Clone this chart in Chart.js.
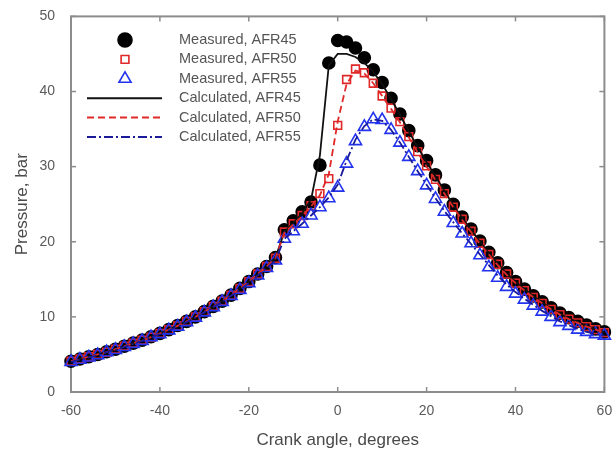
<!DOCTYPE html>
<html>
<head>
<meta charset="utf-8">
<script src="https://cdn.jsdelivr.net/npm/chart.js@4/dist/chart.umd.min.js"></script>
<style>
  html, body { margin: 0; padding: 0; background: #fff; }
  #wrap { width: 613px; height: 455px; }
</style>
</head>
<body>
<div id="wrap"><canvas id="chart" width="613" height="455"></canvas></div>
<script>
// crank angle, degrees
const angles = [-60, -58, -56, -54, -52, -50, -48, -46, -44, -42, -40, -38, -36, -34, -32, -30, -28, -26, -24, -22, -20, -18, -16, -14,
  -12, -10, -8, -6, -4, -2, 0, 2, 4, 6, 8, 10, 12, 14, 16, 18, 20, 22, 24, 26, 28, 30, 32, 34, 36, 38, 40, 42, 44, 46, 48, 50, 52, 54, 56, 58, 60];

// pressure, bar
const measured45 = [4.1, 4.4, 4.7, 5.0, 5.35, 5.7, 6.1, 6.5, 6.9, 7.35, 7.8, 8.3, 8.85, 9.4, 10.0, 10.7, 11.4, 12.1, 12.9, 13.8, 14.7, 15.7, 16.7, 17.9,
  21.6, 22.8, 24.0, 25.3, 30.2, 43.8, 46.8, 46.6, 45.8, 44.5, 42.9, 41.2, 39.1, 37.0, 34.8, 32.8, 30.8, 28.9, 26.9, 25.0, 23.3, 21.7, 20.1, 18.6, 17.2, 15.9, 14.7, 13.7, 12.8, 12.0, 11.2, 10.5, 9.9, 9.4, 8.9, 8.4, 8.0];
const measured50 = [4.1, 4.4, 4.7, 5.0, 5.3, 5.7, 6.1, 6.5, 6.9, 7.3, 7.8, 8.3, 8.8, 9.4, 10.0, 10.7, 11.4, 12.1, 12.9, 13.8, 14.7, 15.7, 16.7, 17.8,
  21.3, 22.4, 23.5, 24.8, 26.4, 28.4, 35.5, 41.6, 43.0, 42.5, 41.1, 39.4, 37.8, 36.0, 34.0, 32.0, 30.1, 28.3, 26.4, 24.6, 23.0, 21.4, 19.8, 18.3, 17.0, 15.7, 14.5, 13.5, 12.6, 11.8, 11.0, 10.3, 9.7, 9.2, 8.7, 8.3, 7.9];
const measured55 = [4.0, 4.3, 4.6, 4.9, 5.3, 5.6, 6.0, 6.4, 6.8, 7.3, 7.7, 8.2, 8.7, 9.3, 9.9, 10.6, 11.3, 12.0, 12.8, 13.6, 14.5, 15.5, 16.5, 17.5,
  20.4, 21.4, 22.4, 23.5, 24.6, 25.8, 27.2, 30.4, 33.4, 35.3, 36.3, 36.2, 34.9, 33.2, 31.3, 29.4, 27.5, 25.7, 24.0, 22.5, 21.1, 19.8, 18.2, 16.6, 15.2, 14.0, 13.1, 12.3, 11.5, 10.7, 10.0, 9.3, 8.8, 8.3, 8.0, 7.7, 7.5];

const calc45 = [4.1, 4.4, 4.7, 5.0, 5.35, 5.7, 6.1, 6.5, 6.9, 7.35, 7.8, 8.3, 8.85, 9.4, 10.0, 10.7, 11.4, 12.1, 12.9, 13.8, 14.7, 15.7, 16.7, 17.9,
  21.3, 22.5, 23.8, 25.6, 31.5, 43.5, 45.0, 45.0, 44.6, 43.8, 42.6, 41.0, 39.0, 36.9, 34.7, 32.6, 30.6, 28.7, 26.8, 24.9, 23.2, 21.6, 20.0, 18.5, 17.1, 15.8, 14.7, 13.7, 12.8, 11.9, 11.1, 10.4, 9.8, 9.3, 8.8, 8.3, 7.9];
const calc50 = [4.1, 4.4, 4.7, 5.0, 5.3, 5.7, 6.1, 6.5, 6.9, 7.3, 7.8, 8.3, 8.8, 9.4, 10.0, 10.7, 11.4, 12.1, 12.9, 13.8, 14.7, 15.7, 16.7, 17.8,
  21.2, 22.3, 23.4, 24.7, 26.2, 29.0, 36.0, 41.0, 42.8, 42.4, 41.1, 39.4, 37.7, 35.9, 33.9, 31.9, 30.0, 28.2, 26.4, 24.6, 22.9, 21.3, 19.7, 18.3, 16.9, 15.6, 14.5, 13.5, 12.6, 11.8, 11.0, 10.3, 9.7, 9.2, 8.7, 8.3, 7.9];
const calc55 = [4.0, 4.3, 4.6, 4.9, 5.3, 5.6, 6.0, 6.4, 6.8, 7.3, 7.7, 8.2, 8.7, 9.3, 9.9, 10.6, 11.3, 12.0, 12.8, 13.6, 14.5, 15.5, 16.5, 17.5,
  20.4, 21.4, 22.4, 23.5, 24.6, 25.9, 27.6, 30.8, 33.6, 35.4, 36.3, 36.1, 34.9, 33.2, 31.3, 29.4, 27.6, 25.8, 24.1, 22.6, 21.1, 19.7, 18.3, 16.9, 15.5, 14.3, 13.3, 12.4, 11.6, 10.8, 10.1, 9.4, 8.9, 8.4, 8.0, 7.7, 7.5];

const seriesLabels = ['Measured, AFR45', 'Measured, AFR50', 'Measured, AFR55',
  'Calculated, AFR45', 'Calculated, AFR50', 'Calculated, AFR55'];

const FONT = "'Liberation Sans', Arial, Helvetica, sans-serif";
const AXIS_GREY = '#8c8c8c';

const pts = arr => arr.map((p, i) => ({ x: angles[i], y: p }));

function markerSet(label, data, style, color, fill, radius, order) {
  return {
    label, data: pts(data), showLine: false, order, clip: false,
    pointStyle: style, pointRadius: radius, pointHoverRadius: radius,
    pointBorderColor: color, pointBackgroundColor: fill, pointBorderWidth: 1.6
  };
}
function lineSet(label, data, color, dash, order) {
  return {
    label, data: pts(data), showLine: true, order, clip: false,
    borderColor: color, borderWidth: 1.8, borderDash: dash, pointRadius: 0,
    tension: 0, fill: false
  };
}

const datasets = [
  markerSet(seriesLabels[0], measured45, 'circle', '#000000', '#000000', 6, 6),
  markerSet(seriesLabels[1], measured50, 'rect', '#e02828', 'rgba(0,0,0,0)', 5.5, 5),
  markerSet(seriesLabels[2], measured55, 'triangle', '#2233ee', 'rgba(0,0,0,0)', 7, 4),
  lineSet(seriesLabels[3], calc45, '#111111', [], 3),
  lineSet(seriesLabels[4], calc50, '#e02828', [7, 4], 2),
  lineSet(seriesLabels[5], calc55, '#1a1a9a', [9, 3, 2, 3], 1)
];

function drawMarker(ctx, style, x, y, r) {
  ctx.beginPath();
  if (style === 'circle') {
    ctx.arc(x, y, r, 0, Math.PI * 2);
  } else if (style === 'rect') {
    const s = r * Math.SQRT1_2;
    ctx.rect(x - s, y - s, 2 * s, 2 * s);
  } else {
    const w = r * Math.sin(Math.PI / 3);
    ctx.moveTo(x, y - r);
    ctx.lineTo(x + w, y + r / 2);
    ctx.lineTo(x - w, y + r / 2);
    ctx.closePath();
  }
  ctx.fill();
  ctx.stroke();
}

const framePlugin = {
  id: 'frame',
  beforeDatasetsDraw(chart) {
    const { ctx, chartArea: a, scales: { x, y } } = chart;
    ctx.save();
    ctx.strokeStyle = AXIS_GREY;
    ctx.lineWidth = 1.5;
    const tick = (x1, y1, x2, y2) => { ctx.beginPath(); ctx.moveTo(x1, y1); ctx.lineTo(x2, y2); ctx.stroke(); };
    x.ticks.forEach(t => {
      const px = x.getPixelForValue(t.value);
      tick(px, a.bottom, px, a.bottom - 5);
      tick(px, a.top, px, a.top + 5);
    });
    y.ticks.forEach(t => {
      const py = y.getPixelForValue(t.value);
      tick(a.left, py, a.left + 5, py);
      tick(a.right, py, a.right - 5, py);
    });
    ctx.lineWidth = 2;
    ctx.strokeRect(a.left, a.top, a.right - a.left, a.bottom - a.top);
    ctx.restore();
  },
  afterDraw(chart) {
    const { ctx } = chart;
    const rowY = i => 40 + i * 19.4;
    ctx.save();
    chart.data.datasets.forEach((ds, i) => {
      const yy = rowY(i);
      if (!ds.showLine) {
        ctx.strokeStyle = ds.pointBorderColor;
        ctx.fillStyle = ds.pointBackgroundColor;
        ctx.lineWidth = ds.pointBorderWidth;
        drawMarker(ctx, ds.pointStyle, 125, yy, ds.pointStyle === 'circle' ? 7 : ds.pointRadius);
      } else {
        ctx.strokeStyle = ds.borderColor;
        ctx.lineWidth = 2;
        ctx.setLineDash(ds.borderDash);
        ctx.beginPath();
        ctx.moveTo(87, yy);
        ctx.lineTo(162, yy);
        ctx.stroke();
        ctx.setLineDash([]);
      }
      ctx.fillStyle = '#555555';
      ctx.font = '14.5px ' + FONT;
      ctx.textAlign = 'left';
      ctx.textBaseline = 'middle';
      ctx.fillText(ds.label, 179, yy);
    });
    ctx.restore();
  }
};

new Chart(document.getElementById('chart'), {
  type: 'scatter',
  data: { datasets },
  plugins: [framePlugin],
  options: {
    responsive: false,
    animation: false,
    layout: { padding: { top: 16, right: 3, left: 0, bottom: 0 } },
    plugins: { legend: { display: false }, tooltip: { enabled: false } },
    scales: {
      x: {
        type: 'linear', min: -60, max: 60,
        grid: { display: false },
        border: { display: false },
        ticks: { stepSize: 20, padding: 3, maxRotation: 0, color: '#5a5a5a', font: { size: 14, family: FONT } },
        title: { display: true, text: 'Crank angle, degrees', color: '#4a4a4a', font: { size: 17, family: FONT }, padding: { top: 4, bottom: 4 } },
        afterFit: s => { s.height = 63; s.paddingLeft = 0; s.paddingRight = 0; }
      },
      y: {
        min: 0, max: 50,
        grid: { display: false },
        border: { display: false },
        ticks: { stepSize: 10, padding: 8, color: '#5a5a5a', font: { size: 14, family: FONT } },
        title: { display: true, text: 'Pressure, bar', color: '#4a4a4a', font: { size: 17, family: FONT }, padding: { top: 12, bottom: 0 } },
        afterFit: s => { s.width = 71; }
      }
    }
  }
});
</script>
</body>
</html>
